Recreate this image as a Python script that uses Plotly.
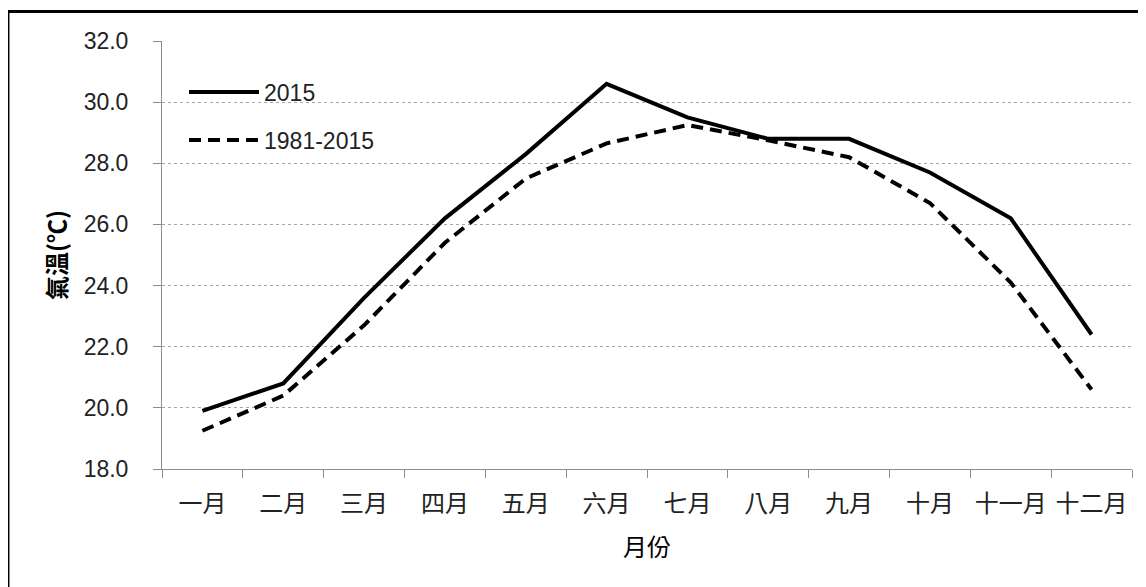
import plotly.graph_objects as go

months = ["一月", "二月", "三月", "四月", "五月", "六月", "七月", "八月", "九月", "十月", "十一月", "十二月"]
temp_2015 = [19.9, 20.8, 23.6, 26.2, 28.3, 30.6, 29.5, 28.8, 28.8, 27.7, 26.2, 22.4]
temp_clim = [19.25, 20.4, 22.7, 25.4, 27.5, 28.65, 29.25, 28.75, 28.2, 26.7, 24.1, 20.6]
name_2015 = "2015"
name_clim = "1981-2015"
y_ticks = [18, 20, 22, 24, 26, 28, 30, 32]

num_font = "Liberation Sans, Noto Sans CJK TC, sans-serif"
cjk_font = "Noto Sans CJK TC, sans-serif"

fig = go.Figure()
fig.add_trace(go.Scatter(
    x=months, y=temp_2015, mode="lines", name=name_2015,
    line=dict(color="black", width=4), legendgroup="a",
))
fig.add_trace(go.Scatter(
    x=months, y=temp_clim, mode="lines", name=name_clim,
    line=dict(color="black", width=4, dash="12px,7px"), legendgroup="b",
))

# page body has an 8px default margin, so the figure is sized/offset accordingly
fig.update_layout(
    width=1138, height=579,
    margin=dict(l=154, r=14, t=33, b=118, autoexpand=False),
    paper_bgcolor="white", plot_bgcolor="white",
    showlegend=True,
    legend=dict(
        x=0.0227, y=0.931, xanchor="left", yanchor="top",
        bgcolor="rgba(0,0,0,0)", borderwidth=0,
        font=dict(family=num_font, size=23, color="#222222"),
        traceorder="grouped", tracegroupgap=15, itemwidth=70,
    ),
    xaxis=dict(
        type="category", categoryorder="array", categoryarray=months,
        range=[-0.5, 11.5], automargin=False, tickangle=0,
        showline=True, linecolor="#8c8c8c", linewidth=1,
        ticks="outside", tickson="boundaries", ticklen=8, tickcolor="#8c8c8c",
        showgrid=False, zeroline=False,
        tickfont=dict(family=cjk_font, size=24, color="#222222"),
        ticklabelstandoff=13,
        title=dict(text="月份", font=dict(family=cjk_font, size=24, color="black"), standoff=21),
    ),
    yaxis=dict(
        range=[18, 32], tickvals=y_ticks, tickformat=".1f", automargin=False,
        showline=True, linecolor="#8c8c8c", linewidth=1,
        ticks="outside", ticklen=8, tickcolor="#8c8c8c",
        showgrid=True, gridcolor="#a6a6a6", griddash="3px,3px", gridwidth=1,
        zeroline=False,
        tickfont=dict(family=num_font, size=23, color="#222222"),
        ticklabelstandoff=20,
        title=dict(text="<b>氣溫(℃)</b>", font=dict(family=cjk_font, size=24, color="black"), standoff=10),
    ),
    shapes=[dict(
        type="rect", xref="paper", yref="paper",
        x0=-0.1588, x1=1.2, y0=-0.5, y1=1.0689,
        line=dict(color="black", width=3), fillcolor="rgba(0,0,0,0)", layer="above",
    )],
)

fig.write_html("out.html")
